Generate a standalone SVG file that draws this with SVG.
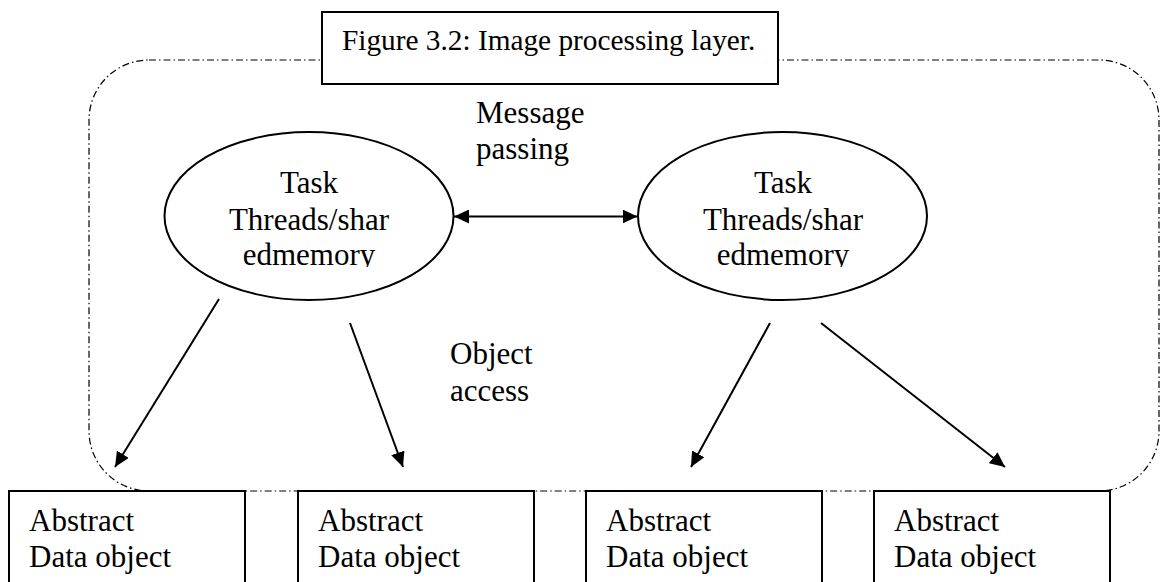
<svg xmlns="http://www.w3.org/2000/svg" width="1161" height="582" viewBox="0 0 1161 582">
<style>
text{font-family:"Liberation Serif","Times New Roman",serif;fill:#000;}
.t31{font-size:31px;}
.t29{font-size:29.3px;}
.box{fill:#fff;stroke:#000;stroke-width:2;}
.ell{fill:#fff;stroke:#000;stroke-width:2;}
.frame{fill:none;stroke:#000;stroke-width:1.2;stroke-dasharray:7 3 1.5 3;}
.conn{stroke:#000;stroke-width:2;fill:none;}
</style>
<defs>
<marker id="ah" viewBox="0 0 15 14" refX="15" refY="7" markerWidth="15" markerHeight="14" markerUnits="userSpaceOnUse" orient="auto-start-reverse">
<path d="M0,0 L15,7 L0,14 z" fill="#000"/>
</marker>
<clipPath id="clipL"><rect x="150" y="120" width="320" height="147"/></clipPath>
<clipPath id="clipR"><rect x="630" y="120" width="310" height="147"/></clipPath>
</defs>
<rect width="1161" height="582" fill="#fff"/>
<g id="frame">
<rect class="frame" x="89" y="60" width="1070" height="431" rx="60" ry="60"/>
</g>
<g id="title">
<rect class="box" x="322" y="12" width="456" height="72"/>
<text class="t29" x="342" y="50">Figure 3.2: Image processing layer.</text>
</g>
<g id="label-message">
<text class="t31" x="476" y="123">Message</text>
<text class="t31" x="476" y="159">passing</text>
</g>
<g id="label-object">
<text class="t31" x="450" y="364">Object</text>
<text class="t31" x="450" y="401">access</text>
</g>
<g id="task1">
<ellipse class="ell" cx="309" cy="216" rx="144.5" ry="84"/>
<g clip-path="url(#clipL)" text-anchor="middle">
<text class="t31" x="309" y="193">Task</text>
<text class="t31" x="309" y="230">Threads/shar</text>
<text class="t31" x="309" y="265">edmemory</text>
</g>
</g>
<g id="task2">
<ellipse class="ell" cx="782.5" cy="216" rx="144.5" ry="84"/>
<g clip-path="url(#clipR)" text-anchor="middle">
<text class="t31" x="783" y="193">Task</text>
<text class="t31" x="783" y="230">Threads/shar</text>
<text class="t31" x="783" y="265">edmemory</text>
</g>
</g>
<g id="connectors">
<line class="conn" x1="454" y1="216.5" x2="637.5" y2="216.5" marker-start="url(#ah)" marker-end="url(#ah)"/>
<line class="conn" x1="219" y1="299" x2="115" y2="467" marker-end="url(#ah)"/>
<line class="conn" x1="350" y1="323" x2="403" y2="467" marker-end="url(#ah)"/>
<line class="conn" x1="770" y1="323" x2="691" y2="467" marker-end="url(#ah)"/>
<line class="conn" x1="821" y1="323" x2="1005" y2="467" marker-end="url(#ah)"/>
</g>
<g id="ado1">
<rect class="box" x="9" y="491" width="236" height="120"/>
<text class="t31" x="29" y="531">Abstract</text>
<text class="t31" x="29" y="567">Data object</text>
</g>
<g id="ado2">
<rect class="box" x="298" y="491" width="236" height="120"/>
<text class="t31" x="318" y="531">Abstract</text>
<text class="t31" x="318" y="567">Data object</text>
</g>
<g id="ado3">
<rect class="box" x="586" y="491" width="236" height="120"/>
<text class="t31" x="606" y="531">Abstract</text>
<text class="t31" x="606" y="567">Data object</text>
</g>
<g id="ado4">
<rect class="box" x="874" y="491" width="236" height="120"/>
<text class="t31" x="894" y="531">Abstract</text>
<text class="t31" x="894" y="567">Data object</text>
</g>
</svg>
